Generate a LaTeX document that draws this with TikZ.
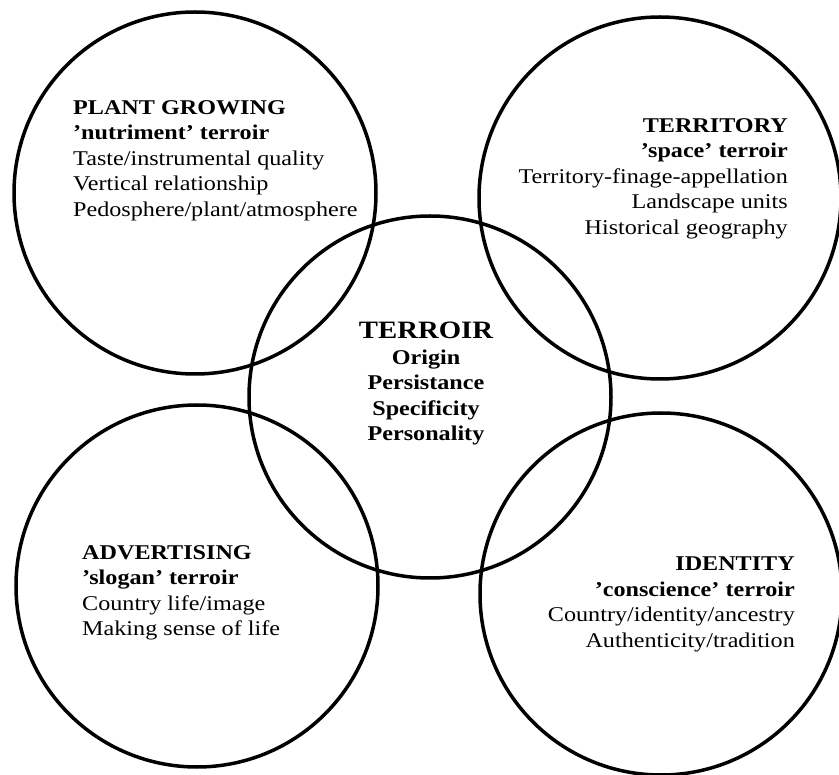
\documentclass[tikz,border=0pt]{standalone}
\usepackage{fontspec}
\setmainfont{Liberation Serif}[FakeStretch=1.15]
\begin{document}
\begin{tikzpicture}
		[x=1pt,y=-1pt,
		ring/.style={draw, circle, line width=3.5pt,
			minimum size=362pt, inner sep=0pt},
		txt/.style={inner sep=0pt,
			font=\fontsize{21}{25.5}\selectfont}
	]
		\useasboundingbox (0,0) rectangle (839,775);
		\node[ring] (plant) at (195,193) {};
		\node[ring] (territory) at (660,198) {};
		\node[ring] (advert) at (197,586) {};
		\node[ring] (identity) at (661,594) {};
		\node[ring] (terroir) at (430,397) {};
		\node[txt, anchor=north west, align=left] (plantTxt) at (73,100)
			{\textbf{PLANT GROWING}\\
			\textbf{'nutriment' terroir}\\
			Taste/instrumental quality\\
			Vertical relationship\\
			Pedosphere/plant/atmosphere};
		\node[txt, anchor=north east, align=right] (territoryTxt) at (788,118)
			{\textbf{TERRITORY}\\
			\textbf{'space' terroir}\\
			Territory-finage-appellation\\
			Landscape units\\
			Historical geography};
		\node[txt, anchor=north west, align=left] (advertTxt) at (82,545)
			{\textbf{ADVERTISING}\\
			\textbf{'slogan' terroir}\\
			Country life/image\\
			Making sense of life};
		\node[txt, anchor=north east, align=right] (identityTxt) at (795,557)
			{\textbf{IDENTITY}\\
			\textbf{'conscience' terroir}\\
			Country/identity/ancestry\\
			Authenticity/tradition};
		\node[txt, anchor=north, align=center, font=\bfseries\fontsize{21}{25.5}\selectfont]
			(terroirTxt) at (426,322)
			{{\fontsize{25}{30}\selectfont TERROIR}\\
			Origin\\
			Persistance\\
			Specificity\\
			Personality};
	\end{tikzpicture}
\end{document}
